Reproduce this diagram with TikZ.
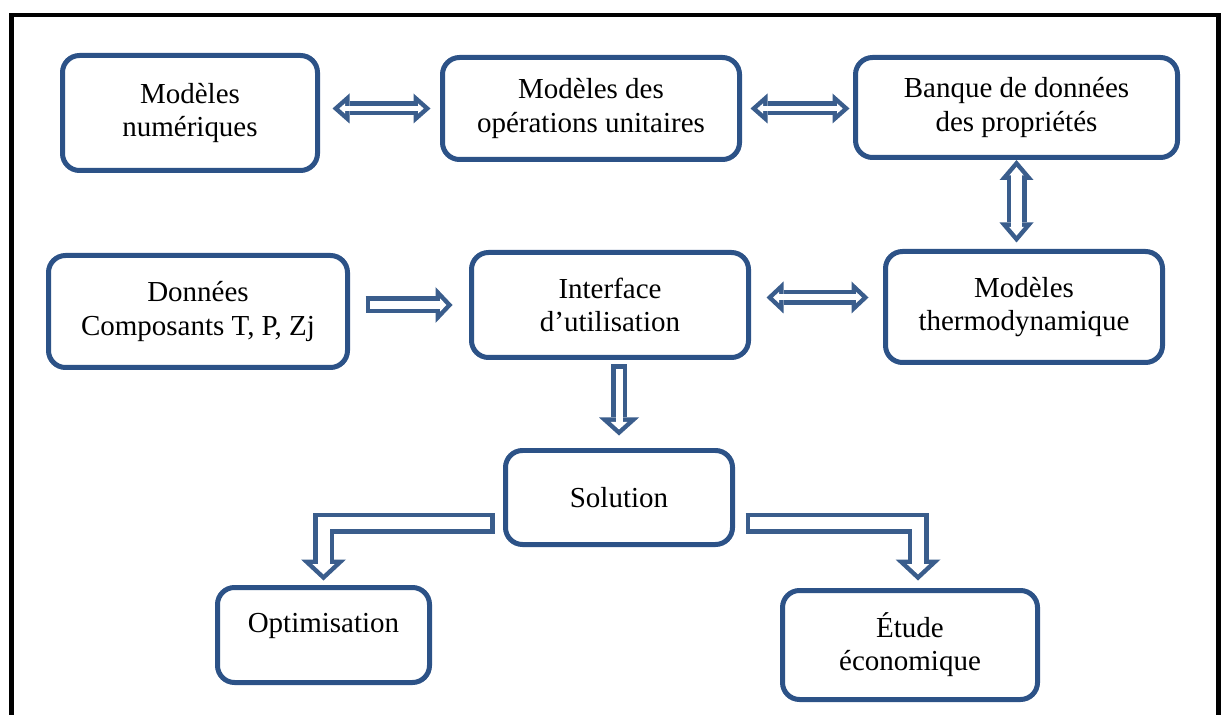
\documentclass[tikz,border=0pt]{standalone}
\usepackage{fontspec}
\setmainfont{Liberation Serif}
\usetikzlibrary{arrows.meta}
\usetikzlibrary{calc}
\definecolor{boxblue}{RGB}{44,82,135}
\definecolor{arrowblue}{RGB}{58,93,140}

\begin{document}
\begin{tikzpicture}
[x=0.02cm,y=-0.02cm,
  framedecorate/.style={line width=0.09cm,draw=black},%
  boxdecorate/.style={shape=rectangle,rounded corners=0.34cm,draw=boxblue,line width=0.1cm,
    fill=white,align=center,font=\fontsize{16.5}{18.8}\selectfont},%
  heads1/.style={->},%
  heads2/.style={<->}]
%%
%% Page and outer frame
\useasboundingbox (0,0) rectangle (1222,715);
\clip (0,0) rectangle (1222,715);
\draw[framedecorate] (11.5,15) rectangle (1218.5,760);
%%
%% Macros
%% Hollow block arrow: #1 heads (1 or 2), #2 shaft, #3 head width,
%% #4 head length, #5 gap at start, #6 gap at end (all px), #7 path
\def\px{0.02cm}
\def\rim{4.5}
\newcommand{\boldarrow}[7]{%
  \pgfmathsetmacro{\tipin}{\rim*sqrt((#4)^2+(#3/2)^2)/(#3/2)}
  \pgfmathsetmacro{\lenin}{#4-\rim-\tipin}
  \pgfmathsetmacro{\widin}{#3*\lenin/#4}
  \ifnum#1=2 \pgfmathsetmacro{\startin}{#5+\tipin}
  \else \pgfmathsetmacro{\startin}{#5+\rim}\fi
  \pgfmathsetmacro{\endin}{#6+\tipin}
  \pgfmathsetlengthmacro{\wout}{#2*\px}
  \pgfmathsetlengthmacro{\win}{(#2-2*\rim)*\px}
  \pgfmathsetlengthmacro{\hwout}{#3*\px}
  \pgfmathsetlengthmacro{\hlout}{#4*\px}
  \pgfmathsetlengthmacro{\hwin}{\widin*\px}
  \pgfmathsetlengthmacro{\hlin}{\lenin*\px}
  \pgfmathsetlengthmacro{\sout}{#5*\px}
  \pgfmathsetlengthmacro{\eout}{#6*\px}
  \pgfmathsetlengthmacro{\sin}{\startin*\px}
  \pgfmathsetlengthmacro{\ein}{\endin*\px}
  \draw[arrowblue,line width=\wout,
    >={Triangle[width=\hwout,length=\hlout,line width=0pt]},heads#1,
    shorten <=\sout,shorten >=\eout] #7;
  \draw[white,line width=\win,
    >={Triangle[width=\hwin,length=\hlin,line width=0pt]},heads#1,
    shorten <=\sin,shorten >=\ein] #7;
}
%%
%% Boxes
\foreach \nodename/\x/\y/\w/\h/\nodetext in {
  nummod/190/113/255/115/{Modèles\\numériques},
  opmod/591/108.5/297/102/{Modèles des\\opérations unitaires},
  banque/1016.5/107.5/322/100/{Banque de données\\des propriétés},
  donnees/198/311.5/299/112/{Données\\Composants T, P, Zj},
  interf/610/305/277/105/{Interface\\d’utilisation},
  thermo/1024/307/277/111/{Modèles\\thermodynamique},
  sol/619/497.5/227/94/{Solution},
  etude/910/645/255/109/{Étude\\économique}}
{
  \node (\nodename) at (\x,\y) [boxdecorate,minimum width=\w*\px,minimum height=\h*\px] {\nodetext};
}
\node (optim) at (323.5,635) [boxdecorate,minimum width=212*\px,minimum height=95*\px,
  text depth=0.48cm] {Optimisation};
%%
%% Arrows
\boldarrow{2}{14}{30}{17}{12.5}{9.5}{(opmod.west -| nummod.east) -- (opmod.west)}
\boldarrow{2}{14}{30}{17}{8.5}{3.5}{(opmod.east) -- (opmod.east -| banque.west)}
\boldarrow{2}{20}{34}{20}{0}{6.5}{(banque.south) -- (banque.south |- thermo.north)}
\boldarrow{1}{17}{36}{17}{15.5}{16.5}{(donnees.east |- interf.west) -- (interf.west)}
\boldarrow{2}{15}{32}{17}{15.5}{14.5}{($(interf.east)+(0,-7.5)$) -- ($(interf.east -| thermo.west)+(0,-7.5)$)}
\boldarrow{1}{16}{40}{18}{4.5}{12.5}{(sol.north |- interf.south) -- (sol.north)}
\boldarrow{1}{21}{45}{21}{8.5}{4.5}{($(sol.west)+(0,25.5)$) -| (optim.north)}
\boldarrow{1}{21}{45}{21}{10.5}{7.5}{($(sol.east)+(0,25.5)$) -| ($(etude.north)+(8,0)$)}
\end{tikzpicture}
\end{document}
